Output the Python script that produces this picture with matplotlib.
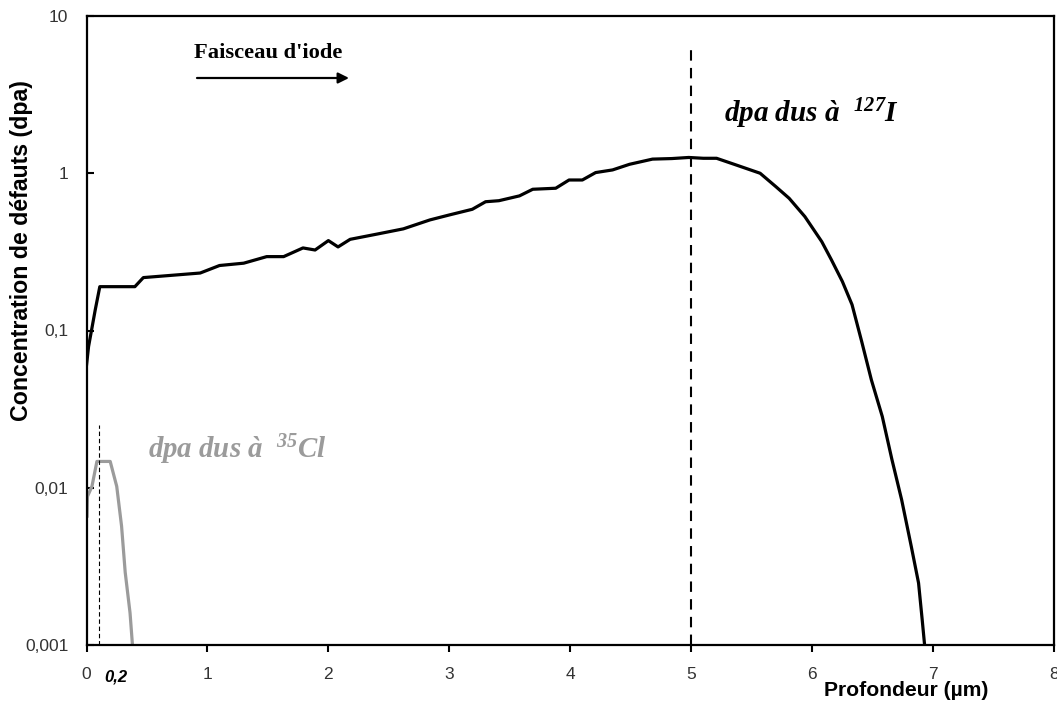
import matplotlib
matplotlib.use("Agg")
import matplotlib.pyplot as plt
from matplotlib.ticker import FixedLocator, NullLocator
import matplotlib.transforms as mtransforms

plt.rcParams['mathtext.default'] = 'regular'

# Data: iodine-induced damage (dpa) vs depth (µm)
iode_x = [0.0, 0.017, 0.072, 0.11, 0.40, 0.47, 0.94, 1.10, 1.30, 1.49, 1.63, 1.79, 1.89,
          2.00, 2.08, 2.18, 2.40, 2.62, 2.84, 3.00, 3.19, 3.30, 3.41, 3.58, 3.69, 3.88,
          3.99, 4.10, 4.21, 4.35, 4.49, 4.68, 4.84, 4.98, 5.10, 5.21, 5.37, 5.57, 5.70,
          5.81, 5.94, 6.08, 6.16, 6.25, 6.33, 6.41, 6.49, 6.58, 6.66, 6.74, 6.82, 6.88,
          6.91, 6.93]
iode_y = [0.060, 0.079, 0.135, 0.19, 0.19, 0.217, 0.232, 0.259, 0.268, 0.295, 0.295, 0.335, 0.325,
          0.373, 0.34, 0.38, 0.41, 0.443, 0.505, 0.543, 0.590, 0.659, 0.669, 0.718, 0.791, 0.803,
          0.906, 0.906, 1.01, 1.05, 1.14, 1.23, 1.24, 1.26, 1.245, 1.245, 1.13, 1.0, 0.822,
          0.693, 0.530, 0.367, 0.281, 0.205, 0.146, 0.085, 0.0485, 0.0284, 0.0151, 0.0084, 0.00423, 0.00248,
          0.00145, 0.001]

# Chlorine-induced damage
chlore_x = [0.005, 0.008, 0.045, 0.086, 0.196, 0.25, 0.29, 0.32, 0.36, 0.38]
chlore_y = [0.0066, 0.0088, 0.0102, 0.0147, 0.0147, 0.0102, 0.0057, 0.0029, 0.0016, 0.001]

x_ticks = [0, 1, 2, 3, 4, 5, 6, 7, 8]
x_ticklabels = ['0', '1', '2', '3', '4', '5', '6', '7', '8']
y_ticks = [0.001, 0.01, 0.1, 1, 10]
y_ticklabels = ['0,001', '0,01', '0,1', '1', '10']

pic_iode_x = 5.0
pic_chlore_x = 0.1

fig = plt.figure(figsize=(10.57, 7.11), dpi=100)
ax = fig.add_axes([86.5/1057, 1-645/711, (1054-86.5)/1057, (645-16)/711])

ax.plot(iode_x, iode_y, color='black', lw=2.3, solid_joinstyle='round')
ax.plot(chlore_x, chlore_y, color='#9b9b9b', lw=2.3, solid_joinstyle='round')

ax.set_yscale('log')
ax.set_xlim(0, 8)
ax.set_ylim(0.001, 10)

# vertical dashed lines
ax.plot([pic_iode_x, pic_iode_x], [0.001, 6.5], color='black', lw=1.5, ls=(0, (5, 3.5)))
ax.plot([pic_chlore_x, pic_chlore_x], [0.001, 0.025], color='black', lw=0.8, ls=(0, (4, 2.5)))

ax.xaxis.set_major_locator(FixedLocator(x_ticks))
ax.set_xticklabels(x_ticklabels)
ax.yaxis.set_major_locator(FixedLocator(y_ticks))
ax.yaxis.set_minor_locator(NullLocator())
ax.set_yticklabels(y_ticklabels)

for sp in ax.spines.values():
    sp.set_linewidth(1.6)
ax.tick_params(axis='x', direction='out', length=5, width=1.5, pad=10.5,
               labelsize=12.5, labelcolor='#333333')
ax.tick_params(axis='y', direction='in', length=5, width=1.5, pad=13,
               labelsize=12.5, labelcolor='#333333')
for lab in ax.get_xticklabels() + ax.get_yticklabels():
    lab.set_fontfamily('Liberation Sans')

fig.text(22/1057, 1-251/711, 'Concentration de défauts (dpa)', rotation=90,
         ha='center', va='center', fontsize=16.7, fontweight='bold', family='Liberation Sans')
fig.text(906/1057, 1-691/711, 'Profondeur (µm)', ha='center', va='center',
         fontsize=15.2, fontweight='bold', family='Liberation Sans')

trans = mtransforms.blended_transform_factory(ax.transData, fig.transFigure)
ax.text(0.24, 1-677/711, '0,2', transform=trans, ha='center', va='center',
        fontsize=12, fontweight='bold', fontstyle='italic', family='Liberation Sans')

# Beam annotation
fig.text(194/1057, 1-53/711, "Faisceau d'iode", ha='left', va='center',
         fontsize=16.2, fontweight='bold', family='Liberation Serif')
ax.annotate('', xy=(349/1057, 1-78/711), xytext=(197/1057, 1-78/711),
            xycoords='figure fraction', textcoords='figure fraction',
            arrowprops=dict(arrowstyle='-|>', color='black', lw=1.6,
                            mutation_scale=16, shrinkA=0, shrinkB=0))

fig.text(724/1057, 1-122/711, 'dpa dus à  $^{127}$I', ha='left', va='baseline',
         fontsize=21, fontweight='bold', fontstyle='italic', family='Liberation Serif')
fig.text(148/1057, 1-458/711, 'dpa dus à  $^{35}$Cl', ha='left', va='baseline',
         fontsize=20.8, fontweight='bold', fontstyle='italic', family='Liberation Serif',
         color='#9b9b9b')

fig.savefig('out.png', dpi=100)
